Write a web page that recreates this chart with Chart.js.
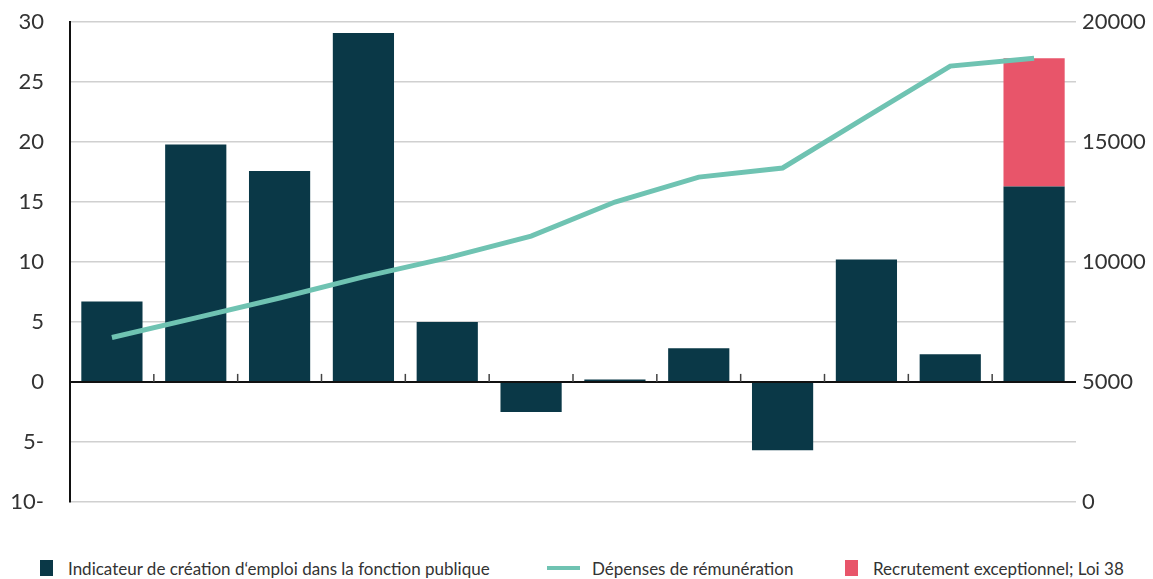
<!DOCTYPE html>
<html>
<head>
<meta charset="utf-8">
<script src="https://cdn.jsdelivr.net/npm/chart.js@4/dist/chart.umd.min.js"></script>
<style>
  body { margin: 0; background: #fff; }
  #wrap { position: relative; width: 1153px; height: 579px; overflow: hidden; }
  #chart { position: absolute; top: -17px; left: 0; }
  #legend { position: absolute; top: 558px; left: 0; width: 1153px; height: 20px;
    font-family: Lato, "Noto Sans", sans-serif; font-size: 17px; color: #333; }
  .item { position: absolute; top: 0; display: flex; align-items: center; height: 20px; white-space: nowrap; }
  .sw { width: 13px; height: 16px; margin-right: 15px; }
  .ln { width: 33px; height: 4px; margin-right: 12px; }
</style>
</head>
<body>
<div id="wrap">
  <canvas id="chart" width="1153" height="558"></canvas>
  <div id="legend"></div>
</div>
<script>
// 12 années, pas d'étiquettes sur l'axe horizontal dans l'original
const categories = ["1", "2", "3", "4", "5", "6", "7", "8", "9", "10", "11", "12"]
const emploi = [6.7, 19.8, 17.6, 29.1, 5.0, -2.5, 0.2, 2.8, -5.7, 10.2, 2.3, 16.3]
const recrutement = [null, null, null, null, null, null, null, null, null, null, null, 10.7]
const depenses = [6850, 7670, 8500, 9380, 10170, 11080, 12500, 13540, 13920, 16050, 18170, 18500]
const leftTicks = [-10, -5, 0, 5, 10, 15, 20, 25, 30]
const rightTicks = [0, 5000, 10000, 15000, 20000]

const labels = [
  "Indicateur de création d‘emploi dans la fonction publique",
  "Dépenses de rémunération",
  "Recrutement exceptionnel; Loi 38"
]
const colors = { bar: "#0a3847", line: "#6fc3b2", red: "#e8556a" }

// petits traits verticaux sur la ligne du zéro, entre les catégories
const zeroTicks = {
  id: "zeroTicks",
  afterDatasetsDraw(chart) {
    const x = chart.scales.x, y = chart.scales.y
    const y0 = y.getPixelForValue(0)
    const ctx = chart.ctx
    ctx.save()
    ctx.strokeStyle = "#444"
    ctx.lineWidth = 1.5
    for (let i = 0; i < categories.length - 1; i++) {
      const px = (x.getPixelForTick(i) + x.getPixelForTick(i + 1)) / 2
      ctx.beginPath()
      ctx.moveTo(px, y0)
      ctx.lineTo(px, y0 - 8)
      ctx.stroke()
    }
    ctx.restore()
  }
}

const tickFont = { family: "Lato, 'Noto Sans', sans-serif", size: 22 }

new Chart(document.getElementById("chart"), {
  type: "bar",
  data: {
    labels: categories,
    datasets: [
      { type: "line", label: labels[1], data: depenses, yAxisID: "y1", borderColor: colors.line,
        backgroundColor: colors.line, borderWidth: 5, pointRadius: 0, tension: 0, order: 0 },
      { label: labels[0], data: emploi, backgroundColor: colors.bar, yAxisID: "y",
        categoryPercentage: 1, barPercentage: 0.73, order: 1 },
      { label: labels[2], data: recrutement, backgroundColor: colors.red, yAxisID: "y",
        categoryPercentage: 1, barPercentage: 0.73, order: 1 }
    ]
  },
  options: {
    responsive: false,
    animation: false,
    layout: { padding: 0 },
    plugins: { legend: { display: false }, tooltip: { enabled: false } },
    scales: {
      x: { stacked: true, display: false },
      y: {
        stacked: true, position: "left", min: -10, max: 30,
        afterBuildTicks: s => { s.ticks = leftTicks.map(v => ({ value: v })) },
        afterFit: s => { s.width = 70 },
        border: { display: true, color: "#111", width: 2 },
        grid: { drawTicks: false, lineWidth: c => c.tick && c.tick.value === 0 ? 2 : 1.5,
          color: c => c.tick && c.tick.value === 0 ? "#111" : "#d0d0d0" },
        ticks: { padding: 26, color: "#333", font: tickFont,
          callback: v => v < 0 ? Math.abs(v) + "-" : String(v) }
      },
      y1: {
        position: "right", min: 0, max: 20000,
        afterBuildTicks: s => { s.ticks = rightTicks.map(v => ({ value: v })) },
        afterFit: s => { s.width = 77 },
        border: { display: false },
        grid: { display: false, drawTicks: false },
        ticks: { padding: 6, color: "#333", font: tickFont, callback: v => String(v) }
      }
    }
  },
  plugins: [zeroTicks]
})

// légende en bas
const legend = document.getElementById("legend")
const items = [
  { text: labels[0], cls: "sw", color: colors.bar, left: 40 },
  { text: labels[1], cls: "ln", color: colors.line, left: 547 },
  { text: labels[2], cls: "sw", color: colors.red, left: 845 }
]
items.forEach(it => {
  const d = document.createElement("div")
  d.className = "item"
  d.style.left = it.left + "px"
  const m = document.createElement("span")
  m.className = it.cls
  m.style.background = it.color
  const t = document.createElement("span")
  t.textContent = it.text
  d.appendChild(m)
  d.appendChild(t)
  legend.appendChild(d)
})
</script>
</body>
</html>
